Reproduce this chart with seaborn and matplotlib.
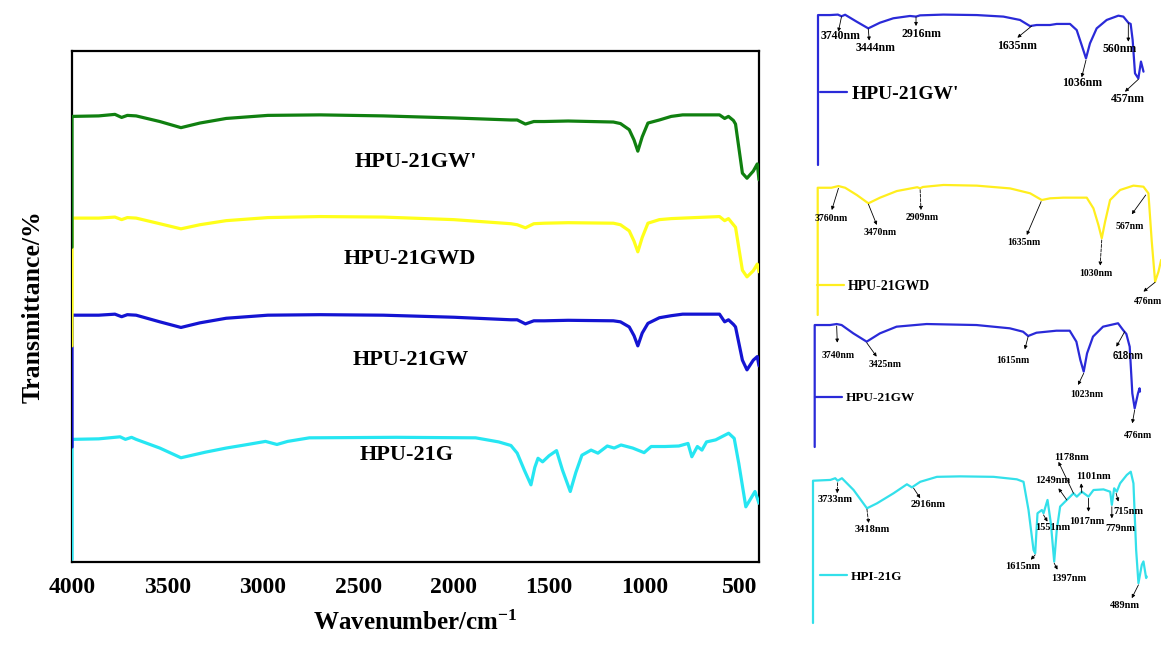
import matplotlib

matplotlib.use("Agg")
import matplotlib.pyplot as plt
import numpy as np
import seaborn as sns

# ---- main panel: FTIR spectra, stacked (wavenumber cm-1 / offset transmittance) ----
MAIN_WN = [4000, 4000, 3860, 3775, 3740, 3710, 3664, 3540, 3429, 3330, 3192, 2974, 2700, 2369,
           2000, 1700, 1667, 1624, 1580, 1525, 1400, 1163, 1126, 1080, 1055, 1035, 1012, 982,
           922, 860, 800, 607, 580, 560, 534, 523, 487, 463, 430, 409, 400]
GW_PRIME_T = [61.6, 87.2, 87.3, 87.6, 87.0, 87.4, 87.3, 86.2, 85.0, 85.9, 86.8, 87.4, 87.5, 87.3,
              86.9, 86.5, 86.5, 85.7, 86.2, 86.2, 86.3, 86.1, 85.8, 84.6, 82.6, 80.4, 83.2, 85.9,
              86.5, 87.2, 87.5, 87.5, 86.8, 87.2, 86.4, 85.7, 76.1, 75.1, 76.5, 77.9, 74.8]
GWD_T = [42.3, 67.3, 67.3, 67.5, 67.0, 67.4, 67.3, 66.2, 65.2, 66.0, 66.8, 67.4, 67.6, 67.5,
         67.0, 66.2, 66.0, 65.4, 66.2, 66.3, 66.4, 66.3, 66.0, 64.8, 62.8, 60.7, 63.5, 66.3,
         67.0, 67.2, 67.3, 67.6, 66.8, 67.2, 66.0, 65.5, 57.1, 55.8, 57.0, 58.3, 56.8]
GW_T = [22.5, 48.3, 48.3, 48.5, 48.0, 48.4, 48.3, 47.0, 45.9, 46.8, 47.7, 48.3, 48.4, 48.3,
        47.9, 47.4, 47.4, 46.6, 47.2, 47.2, 47.3, 47.2, 47.0, 46.0, 44.3, 42.3, 44.8, 46.7,
        47.8, 48.2, 48.5, 48.5, 47.0, 47.4, 46.5, 46.0, 39.5, 37.6, 39.5, 40.2, 38.4]
G_WN = [4000, 4000, 3860, 3748, 3720, 3688, 3664, 3540, 3429, 3300, 3192, 3095, 2986, 2926,
        2870, 2756, 2300, 1885, 1764, 1700, 1667, 1630, 1595, 1575, 1558, 1534, 1500, 1461,
        1430, 1389, 1360, 1328, 1280, 1244, 1195, 1159, 1123, 1062, 1002, 965, 893, 820,
        772, 752, 723, 699, 675, 627, 559, 530, 506, 469, 421, 400]
G_T = [0.5, 24.0, 24.1, 24.5, 24.0, 24.4, 24.0, 22.3, 20.4, 21.5, 22.3, 22.9, 23.6, 23.0,
       23.6, 24.3, 24.4, 24.3, 23.5, 22.8, 21.3, 18.0, 15.1, 18.5, 20.3, 19.6, 20.8, 21.8,
       18.0, 13.8, 17.5, 20.9, 21.9, 21.3, 22.7, 22.3, 22.9, 22.3, 21.4, 22.6, 22.6, 22.7,
       23.2, 20.6, 22.6, 21.9, 23.5, 23.9, 25.2, 24.2, 19.3, 10.8, 13.8, 11.5]

MAIN_LABELS = ["HPU-21GW'", "HPU-21GWD", "HPU-21GW", "HPU-21G"]
MAIN_LABEL_WN = [2200, 2231, 2225, 2248]
MAIN_LABEL_T = [78.3, 59.2, 39.5, 20.9]
MAJOR_TICKS = [4000, 3500, 3000, 2500, 2000, 1500, 1000, 500]
MINOR_TICKS = [3750, 3250, 2750, 2250, 1750, 1250, 750]

# ---- right-hand panels: single spectra with peak annotations ----
INSET1_WN = [4000, 4000, 3868, 3780, 3740, 3700, 3683, 3573, 3444, 3315, 3167, 2983, 2916, 2872,
             2614, 2245, 1950, 1766, 1655, 1582, 1434, 1360, 1213, 1139, 1084, 1036, 992, 918,
             807, 678, 623, 568, 542, 520, 494, 457, 428, 409, 400]
INSET1_T = [0, 98.0, 98.0, 98.3, 97.2, 98.2, 97.6, 93.7, 89.3, 93.0, 95.9, 97.4, 97.0, 97.8,
            98.3, 98.0, 97.0, 94.8, 90.8, 91.5, 91.5, 92.2, 92.2, 88.2, 78.4, 69.7, 79.5, 89.3,
            94.8, 97.6, 97.0, 93.0, 92.2, 81.7, 59.9, 56.6, 67.6, 63.2, 61.0]
# (label, text wn, text T, arrow tail wn, tail T, arrow head wn, head T, dashed)
INSET1_PEAKS = [
    ("3740nm", 3750, 84.3, 3740, 97.0, 3775, 87.1, False),
    ("3444nm", 3359, 76.7, 3444, 89.0, 3433, 81.3, False),
    ("2916nm", 2854, 85.4, 2916, 96.8, 2916, 90.8, False),
    ("1635nm", 1795, 77.8, 1637, 90.8, 1795, 83.2, False),
    ("1036nm", 1084, 53.8, 1036, 68.6, 1084, 57.3, False),
    ("560nm", 667, 75.6, 568, 92.8, 568, 80.6, False),
    ("457nm", 579, 43.1, 457, 56.0, 605, 47.9, False),
]

INSET2_WN = [4000, 4000, 3857, 3783, 3713, 3591, 3470, 3348, 3173, 2960, 2929, 2900, 2685, 2337,
             1988, 1779, 1657, 1570, 1431, 1187, 1117, 1065, 1030, 995, 943, 838, 699, 594,
             542, 507, 472, 437, 409, 400]
INSET2_T = [0, 96.4, 96.4, 97.7, 96.4, 90.9, 84.6, 88.9, 93.9, 96.8, 96.0, 97.0, 98.5, 98.0,
            95.9, 92.2, 87.1, 88.4, 88.9, 88.9, 80.8, 68.2, 58.1, 70.7, 87.1, 94.7, 98.0, 97.2,
            92.2, 55.6, 25.3, 32.8, 41.7, 38.0]
INSET2_PEAKS = [
    ("3760nm", 3863, 73.2, 3783, 96.0, 3853, 79.5, False),
    ("3470nm", 3348, 62.6, 3470, 84.0, 3382, 68.2, False),
    ("2909nm", 2912, 73.7, 2929, 94.9, 2920, 79.5, True),
    ("1635nm", 1849, 55.1, 1664, 85.9, 1814, 60.6, False),
    ("1030nm", 1089, 31.6, 1030, 56.8, 1047, 37.4, True),
    ("567nm", 734, 67.4, 570, 90.9, 716, 76.3, False),
    ("476nm", 542, 10.6, 472, 24.8, 594, 17.7, False),
]

INSET3_WN = [4000, 4000, 3831, 3757, 3702, 3573, 3425, 3278, 3094, 2762, 2210, 1841, 1694, 1638,
             1546, 1325, 1178, 1104, 1060, 1023, 986, 920, 809, 643, 588, 551, 514, 485, 459,
             422, 405, 400]
INSET3_T = [0, 96.8, 96.8, 97.6, 96.8, 90.2, 83.6, 90.2, 95.5, 97.6, 96.8, 94.2, 91.5, 88.1,
            90.7, 92.3, 92.3, 83.6, 69.0, 59.8, 74.3, 87.6, 95.5, 98.2, 92.9, 89.7, 79.6, 42.6,
            30.7, 42.6, 46.6, 44.0]
INSET3_PEAKS = [
    ("3740nm", 3739, 73.0, 3757, 96.0, 3750, 82.8, False),
    ("3425nm", 3223, 65.1, 3425, 82.8, 3314, 71.7, False),
    ("1615nm", 1804, 68.5, 1638, 87.6, 1675, 77.5, False),
    ("1023nm", 994, 41.3, 1023, 58.5, 1086, 49.2, False),
    ("618nm", 533, 72.2, 570, 91.5, 662, 79.6, False),
    ("476nm", 422, 9.5, 459, 29.4, 485, 18.8, False),
]

INSET4_WN = [4000, 4000, 3813, 3760, 3734, 3688, 3562, 3418, 3310, 3131, 2987, 2933, 2843, 2663,
             2412, 2052, 1801, 1729, 1675, 1621, 1603, 1578, 1531, 1513, 1470, 1434, 1398, 1370,
             1334, 1262, 1226, 1190, 1154, 1100, 1028, 974, 866, 794, 776, 751, 723, 687, 615,
             572, 543, 514, 489, 453, 435, 406, 400]
INSET4_T = [0, 91.8, 92.3, 93.4, 91.8, 93.4, 85.8, 74.0, 77.2, 83.7, 89.5, 87.5, 91.1, 94.3,
            94.6, 94.3, 92.7, 91.1, 72.9, 47.1, 45.0, 70.8, 72.9, 70.8, 79.4, 64.3, 39.6, 60.1,
            75.1, 79.4, 81.5, 83.7, 81.5, 84.7, 81.5, 85.8, 86.2, 84.7, 76.2, 86.9, 84.7, 90.1,
            95.5, 97.6, 90.1, 47.2, 25.7, 37.5, 39.7, 29.0, 30.0]
INSET4_PEAKS = [
    ("3733nm", 3760, 79.8, 3734, 90.5, 3740, 83.7, True),
    ("3418nm", 3364, 60.5, 3418, 73.4, 3400, 64.4, True),
    ("2916nm", 2753, 76.2, 2915, 87.0, 2843, 80.5, False),
    ("1615nm", 1740, 36.5, 1603, 44.0, 1650, 40.8, False),
    ("1397nm", 1244, 29.0, 1398, 38.6, 1362, 34.4, False),
    ("1551nm", 1413, 61.8, 1513, 69.7, 1470, 65.4, False),
    ("1249nm", 1413, 91.8, 1262, 79.4, 1352, 86.9, False),
    ("1178nm", 1208, 106.9, 1190, 83.7, 1352, 104.0, False),
    ("1101nm", 974, 94.8, 1100, 84.0, 1107, 90.1, False),
    ("1017nm", 1046, 65.4, 1028, 80.4, 1028, 71.8, False),
    ("779nm", 687, 61.1, 776, 75.0, 776, 67.5, False),
    ("715nm", 597, 71.8, 730, 83.7, 705, 78.3, False),
    ("489nm", 633, 11.1, 489, 24.6, 561, 16.0, False),
]

FIG_W, FIG_H = 1161, 648
SERIF = ["Liberation Serif", "DejaVu Serif"]


def px_axes(fig, x0, x1, y_top, y_bot):
    return fig.add_axes([x0 / FIG_W, (FIG_H - y_bot) / FIG_H, (x1 - x0) / FIG_W, (y_bot - y_top) / FIG_H])


def draw_main(fig):
    ax = px_axes(fig, 72, 759, 51, 562)
    series = [
        (G_WN, G_T, "#26e6f2"),
        (MAIN_WN, GW_T, "#1414d2"),
        (MAIN_WN, GWD_T, "#ffff1a"),
        (MAIN_WN, GW_PRIME_T, "#108010"),
    ]
    for wn, t, color in series:
        sns.lineplot(x=np.array(wn), y=np.array(t), sort=False, estimator=None, color=color,
                     linewidth=2.3, ax=ax, zorder=3)
    for label, wn, t in zip(MAIN_LABELS, MAIN_LABEL_WN, MAIN_LABEL_T):
        ax.text(wn, t, label, ha="center", va="center", fontsize=16, fontweight="bold")

    ax.set_xlim(4000, 400)
    ax.set_ylim(0, 100)
    ax.set_xticks(MAJOR_TICKS)
    ax.set_xticks(MINOR_TICKS, minor=True)
    ax.set_yticks([])
    ax.tick_params(axis="x", which="major", length=7, width=1.6, direction="out", labelsize=17, pad=4)
    ax.tick_params(axis="x", which="minor", length=4, width=1.6, direction="out")
    for lbl in ax.get_xticklabels():
        lbl.set_fontweight("bold")
    for side in ax.spines.values():
        side.set_linewidth(1.6)
        side.set_color("black")
    ax.set_xlabel(r"Wavenumber/cm$^{-1}$", fontsize=18, fontweight="bold", labelpad=9)
    ax.set_ylabel("Transmittance/%", fontsize=18.5, fontweight="bold", labelpad=20)


def draw_inset(fig, box, wn, t, color, label, legend_xy, legend_size, peaks, peak_size, sans_labels=()):
    x0, x1, y_top, y_bot = box
    ax = px_axes(fig, x0, x1, y_top, y_bot)
    sns.lineplot(x=np.array(wn), y=np.array(t), sort=False, estimator=None, color=color,
                 linewidth=1.6, ax=ax, label=label, clip_on=False)
    ax.set_xlim(4000, 400)
    ax.set_ylim(0, 100)
    ax.axis("off")

    for name, tx, ty, ax_, ay_, hx, hy, dashed in peaks:
        fam = ["Liberation Sans", "DejaVu Sans"] if name in sans_labels else SERIF
        ax.text(tx, ty, name, ha="center", va="center", fontsize=peak_size, fontweight="bold",
                family=fam, clip_on=False)
        ax.annotate("", xy=(hx, hy), xytext=(ax_, ay_), annotation_clip=False,
                    arrowprops=dict(arrowstyle="-|>", color="black", lw=0.6, mutation_scale=5,
                                    linestyle="--" if dashed else "-", shrinkA=0, shrinkB=0))

    lx, ly = legend_xy
    fs_px = legend_size * 100 / 72
    ax.legend(loc="center left", frameon=False, borderpad=0, borderaxespad=0,
              bbox_to_anchor=((lx - x0) / (x1 - x0), (y_bot - ly) / (y_bot - y_top)),
              handlelength=27 / fs_px, handletextpad=0.25,
              prop={"family": SERIF, "weight": "bold", "size": legend_size})


def main():
    sns.set_theme(style="white")
    plt.rcParams.update(
        {
            "font.family": SERIF,
            "text.color": "black",
            "axes.labelcolor": "black",
            "xtick.color": "black",
            "ytick.color": "black",
            "legend.labelcolor": "black",
            "mathtext.fontset": "custom",
            "mathtext.rm": "Liberation Serif:bold",
            "mathtext.bf": "Liberation Serif:bold",
            "mathtext.default": "bf",
        }
    )

    fig = plt.figure(figsize=(FIG_W / 100, FIG_H / 100), dpi=100)
    draw_main(fig)
    draw_inset(fig, (818, 1143.5, 12, 165), INSET1_WN, INSET1_T, "#2a2ad8", "HPU-21GW'",
               (820, 94.3), 14, INSET1_PEAKS, 8.5)
    draw_inset(fig, (817.7, 1162, 183, 315), INSET2_WN, INSET2_T, "#ffee1e", "HPU-21GWD",
               (817, 286.7), 10, INSET2_PEAKS, 7)
    draw_inset(fig, (814.7, 1140, 321, 447), INSET3_WN, INSET3_T, "#2a2ad8", "HPU-21GW",
               (815, 398.3), 9.5, INSET3_PEAKS, 7, sans_labels=("618nm",))
    draw_inset(fig, (813, 1146.7, 468, 623), INSET4_WN, INSET4_T, "#33e0ea", "HPI-21G",
               (820, 576.7), 9.5, INSET4_PEAKS, 7.5)
    fig.savefig("out.png", dpi=100)
    plt.close(fig)


if __name__ == "__main__":
    main()
